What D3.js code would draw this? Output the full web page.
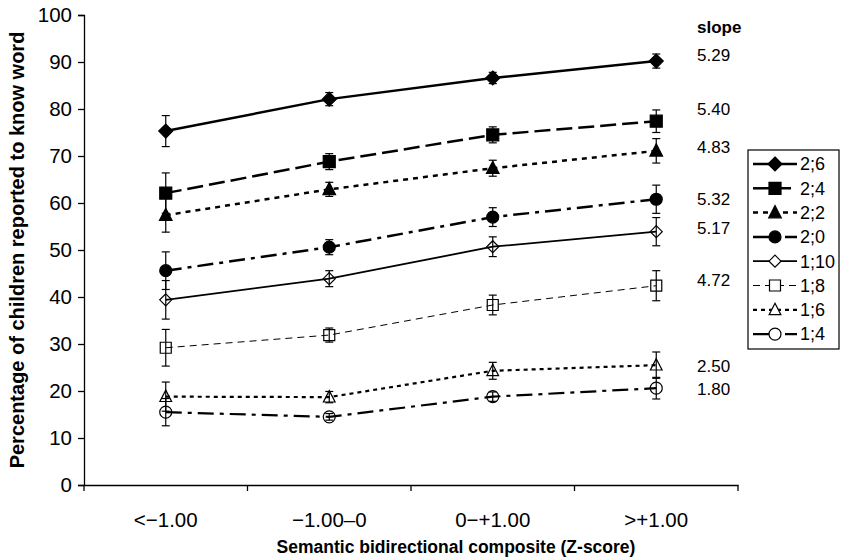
<!DOCTYPE html>
<html>
<head>
<meta charset="utf-8">
<script src="https://cdn.jsdelivr.net/npm/d3@7"></script>
<style>
  body { margin: 0; background: #fff; }
  svg { font-family: "Liberation Sans", Arial, sans-serif; }
  .tick text { font-size: 20.5px; fill: #000; }
  .title { font-size: 20px; font-weight: bold; }
  .xtitle { font-size: 17.5px; font-weight: bold; }
  .slope-head { font-size: 17px; font-weight: bold; }
</style>
</head>
<body>
<svg id="chart" width="841" height="558"></svg>
<script>
// categories on the x axis
var categories = ["<\u22121.00", "\u22121.00\u20130", "0\u2212+1.00", ">+1.00"];
// age groups (legend order)
var groups = ["2;6", "2;4", "2;2", "2;0", "1;10", "1;8", "1;6", "1;4"];
// percentage values per group, one per category
var v26 = [75.3, 82.1, 86.6, 90.2];
var v24 = [62.1, 68.8, 74.5, 77.4];
var v22 = [57.4, 62.9, 67.4, 71.1];
var v20 = [45.6, 50.6, 57.0, 60.8];
var v110 = [39.4, 43.9, 50.7, 53.9];
var v18 = [29.2, 31.9, 38.3, 42.4];
var v16 = [18.8, 18.7, 24.3, 25.5];
var v14 = [15.5, 14.5, 18.8, 20.6];
// error bar half-widths
var e26 = [3.3, 1.4, 1.2, 1.5];
var e24 = [4.3, 1.7, 1.7, 2.4];
var e22 = [3.6, 1.5, 1.7, 2.6];
var e20 = [4.0, 1.6, 2.0, 3.0];
var e110 = [4.1, 1.7, 2.1, 3.0];
var e18 = [3.9, 1.5, 2.1, 3.2];
var e16 = [3.1, 1.2, 1.8, 2.8];
var e14 = [2.9, 0.7, 1.0, 2.3];
// slopes printed at right
var slopes = ["5.29", "5.40", "4.83", "5.32", "5.17", "4.72", "2.50", "1.80"];
var yTicks = [0, 10, 20, 30, 40, 50, 60, 70, 80, 90, 100];

var values = [v26, v24, v22, v20, v110, v18, v16, v14];
var errors = [e26, e24, e22, e20, e110, e18, e16, e14];

// styling per group
var styles = [
  { marker: "diamond", filled: true, width: 2.5, dash: null },
  { marker: "square", filled: true, width: 2.5, dash: "16,6" },
  { marker: "triangle", filled: true, width: 2.5, dash: "5,5" },
  { marker: "circle", filled: true, width: 2.5, dash: "16,6,4,6" },
  { marker: "diamond", filled: false, width: 1.8, dash: null },
  { marker: "square", filled: false, width: 1, dash: "7,5" },
  { marker: "triangle", filled: false, width: 2.2, dash: "4,4" },
  { marker: "circle", filled: false, width: 2.2, dash: "16,6,4,6" }
];
var labelDy = [-6, -12, -4, 0, -4, -6, 1, 1];

var svg = d3.select("#chart");
var mLeft = 84, mRight = 738, mTop = 15, mBottom = 485;

var x = d3.scaleBand().domain(categories).range([mLeft, mRight]).padding(0);
var y = d3.scaleLinear().domain([0, 100]).range([mBottom, mTop]);
var cx = function (c) { return x(c) + x.bandwidth() / 2; };

function markerPath(type, filled) {
  var p = d3.path();
  var r;
  if (type === "diamond") {
    r = filled ? 7 : 6;
    p.moveTo(0, -r); p.lineTo(r, 0); p.lineTo(0, r); p.lineTo(-r, 0); p.closePath();
  } else if (type === "square") {
    r = filled ? 6 : 5.5;
    p.rect(-r, -r, 2 * r, 2 * r);
  } else if (type === "triangle") {
    r = filled ? 7 : 6.5;
    p.moveTo(0, -r); p.lineTo(r * 0.9, r * 0.75); p.lineTo(-r * 0.9, r * 0.75); p.closePath();
  } else {
    r = 6;
    p.arc(0, 0, r, 0, 2 * Math.PI);
  }
  return p.toString();
}

// y axis
svg.append("g")
  .attr("transform", "translate(" + mLeft + ",0)")
  .call(d3.axisLeft(y).tickValues(yTicks).tickSize(6).tickPadding(6))
  .call(function (g) { g.select(".domain").attr("stroke-width", 1.3); })
  .call(function (g) { g.selectAll(".tick line").attr("stroke-width", 1.3); });

// x axis: labels at centres, ticks at boundaries
var xb = svg.append("g").attr("transform", "translate(0," + mBottom + ")");
xb.call(d3.axisBottom(x).tickSize(0).tickPadding(27));
xb.select(".domain").attr("stroke-width", 1.3);
var bounds = categories.map(function (c) { return x(c); }).concat([mRight]);
xb.selectAll(".btick").data(bounds).enter().append("line")
  .attr("x1", function (d) { return d; }).attr("x2", function (d) { return d; })
  .attr("y1", 0).attr("y2", 6).attr("stroke", "#000").attr("stroke-width", 1.3);

// series
var line = d3.line()
  .x(function (d, i) { return cx(categories[i]); })
  .y(function (d) { return y(d); });

groups.forEach(function (g, k) {
  var st = styles[k];
  var gg = svg.append("g");
  gg.append("path")
    .attr("d", line(values[k]))
    .attr("fill", "none").attr("stroke", "#000")
    .attr("stroke-width", st.width)
    .attr("stroke-dasharray", st.dash);
  values[k].forEach(function (v, i) {
    var xc = cx(categories[i]);
    var lo = y(v - errors[k][i]), hi = y(v + errors[k][i]);
    gg.append("line").attr("x1", xc).attr("x2", xc).attr("y1", lo).attr("y2", hi)
      .attr("stroke", "#000").attr("stroke-width", 1.2);
    [lo, hi].forEach(function (yy) {
      gg.append("line").attr("x1", xc - 4).attr("x2", xc + 4).attr("y1", yy).attr("y2", yy)
        .attr("stroke", "#000").attr("stroke-width", 1.2);
    });
    gg.append("path")
      .attr("transform", "translate(" + xc + "," + y(v) + ")")
      .attr("d", markerPath(st.marker, st.filled))
      .attr("fill", st.filled ? "#000" : "none")
      .attr("stroke", "#000").attr("stroke-width", 1.2);
  });
  // slope label
  svg.append("text")
    .attr("x", 697)
    .attr("y", y(values[k][3]) + labelDy[k])
    .attr("dy", "0.35em")
    .attr("font-size", 17)
    .text(slopes[k]);
});

svg.append("text")
  .attr("x", 697).attr("y", 27).attr("dy", "0.35em")
  .attr("class", "slope-head")
  .text("slope");

// legend
var leg = svg.append("g");
leg.append("rect").attr("x", 748).attr("y", 150).attr("width", 91).attr("height", 199)
  .attr("fill", "#fff").attr("stroke", "#000").attr("stroke-width", 1.2);
groups.forEach(function (g, k) {
  var st = styles[k];
  var ly = 164 + k * 24.3;
  leg.append("line").attr("x1", 753).attr("x2", 797).attr("y1", ly).attr("y2", ly)
    .attr("stroke", "#000").attr("stroke-width", st.width)
    .attr("stroke-dasharray", st.dash);
  leg.append("path")
    .attr("transform", "translate(775," + ly + ")")
    .attr("d", markerPath(st.marker, st.filled))
    .attr("fill", st.filled ? "#000" : "#fff")
    .attr("stroke", "#000").attr("stroke-width", 1.2);
  leg.append("text").attr("x", 800).attr("y", ly).attr("dy", "0.35em")
    .attr("font-size", 18).text(g);
});

// axis titles
svg.append("text")
  .attr("class", "title")
  .attr("text-anchor", "middle")
  .attr("transform", "translate(24," + ((mTop + mBottom) / 2) + ") rotate(-90)")
  .text("Percentage of children reported to know word");

svg.append("text")
  .attr("class", "xtitle")
  .attr("text-anchor", "middle")
  .attr("x", 456).attr("y", 553)
  .text("Semantic bidirectional composite (Z-score)");
</script>
</body>
</html>
